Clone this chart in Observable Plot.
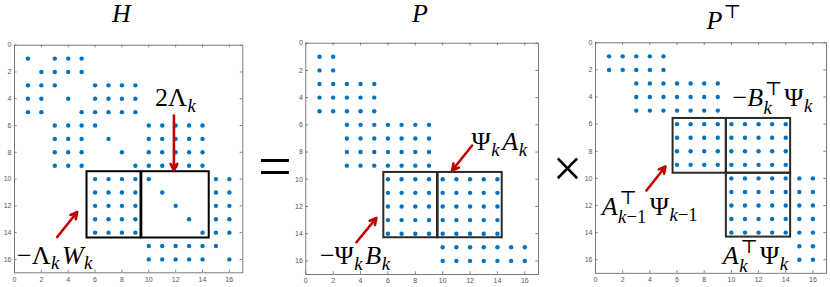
<!DOCTYPE html>
<html><head><meta charset="utf-8">
<script src="https://cdn.jsdelivr.net/npm/d3@7"></script>
<script src="https://cdn.jsdelivr.net/npm/@observablehq/plot@0.6"></script>
<style>
html,body{margin:0;padding:0;background:#fff;}
#wrap{position:relative;width:830px;height:287px;overflow:hidden;background:#fff;}
#wrap > svg{position:absolute;top:0;}
</style></head><body><div id="wrap"></div>
<script>
// ---------- data ----------
const tickValues = [0, 2, 4, 6, 8, 10, 12, 14, 16];

// nonzero columns of each row (rows 1..16)
const H_pattern = [
  [1,3,4,5], [2,3,4,5], [1,2,3,6,7,8,9], [1,2,4,6,7,8,9], [1,2,5,6,7,8,9],
  [3,4,5,6,10,11,12,13,14], [3,4,5,7,10,11,12,13,14], [3,4,5,8,10,11,12,13,14], [3,4,5,9,10,11,12,13,14],
  [6,7,8,9,10,15,16], [6,7,8,9,11,15,16], [6,7,8,9,12,15,16], [6,7,8,9,13,15,16], [6,7,8,9,14,15,16],
  [10,11,12,13,14,15], [10,11,12,13,14,16]
];
const P_pattern = [
  [1,2], [1,2], [1,2,3,4,5], [1,2,3,4,5], [1,2,3,4,5],
  [3,4,5,6,7,8,9], [3,4,5,6,7,8,9], [3,4,5,6,7,8,9], [3,4,5,6,7,8,9],
  [6,7,8,9,10,11,12,13,14], [6,7,8,9,10,11,12,13,14], [6,7,8,9,10,11,12,13,14], [6,7,8,9,10,11,12,13,14], [6,7,8,9,10,11,12,13,14],
  [10,11,12,13,14,15,16], [10,11,12,13,14,15,16]
];
const PT_pattern = [
  [1,2,3,4,5], [1,2,3,4,5], [3,4,5,6,7,8,9], [3,4,5,6,7,8,9], [3,4,5,6,7,8,9],
  [6,7,8,9,10,11,12,13,14], [6,7,8,9,10,11,12,13,14], [6,7,8,9,10,11,12,13,14], [6,7,8,9,10,11,12,13,14],
  [10,11,12,13,14,15,16], [10,11,12,13,14,15,16], [10,11,12,13,14,15,16], [10,11,12,13,14,15,16], [10,11,12,13,14,15,16],
  [15,16], [15,16]
];

// highlighted blocks (matrix coordinates)
const H_boxes = [{x1:5.4, x2:9.42, y1:9.45, y2:14.4}, {x1:9.48, x2:14.5, y1:9.45, y2:14.4}];
const P_boxes = [{x1:5.7, x2:9.62, y1:9.5, y2:14.3}, {x1:9.67, x2:14.35, y1:9.5, y2:14.3}];
const PT_boxes = [{x1:5.71, x2:9.63, y1:5.58, y2:9.62}, {x1:9.63, x2:14.36, y1:5.58, y2:9.62}, {x1:9.63, x2:14.36, y1:9.62, y2:14.33}];

// annotation arrows (matrix coordinates)
const H_arrows = [{x1:11.87, y1:5.25, x2:11.87, y2:9.35}, {x1:3.18, y1:14.33, x2:4.67, y2:12.46}];
const P_arrows = [{x1:12.15, y1:7.52, x2:10.69, y2:9.36}, {x1:3.7, y1:14.63, x2:5.16, y2:12.84}];
const PT_arrows = [{x1:3.75, y1:10.89, x2:5.15, y2:9.12}];

// annotation labels: left x, baseline y (matrix coordinates), tokens
const H_labels = [
  {x:10.5, y:4.6, tokens:[["2"],["Λ"],["k","sub"]]},
  {x:0.22, y:16.35, tokens:[["−"],["Λ"],["k","sub"],["W"],["k","sub"]]}
];
const P_labels = [
  {x:12.15, y:7.9, tokens:[["Ψ"],["k","sub"],["A"],["k","sub"]]},
  {x:1.07, y:16.3, tokens:[["−"],["Ψ"],["k","sub"],["B"],["k","sub"]]}
];
const PT_labels = [
  {x:10.12, y:4.7, tokens:[["−"],["B"],["k","subsup","⊤"],["Ψ"],["k","sub"]]},
  {x:0.49, y:12.73, tokens:[["A"],["k−1","subsup","⊤"],["Ψ"],["k−1","sub"]]},
  {x:9.41, y:16.35, tokens:[["A"],["k","subsup","⊤"],["Ψ"],["k","sub"]]}
];

// panel titles: left x (matrix coords), baseline in px
const titles = [
  {tokens:[["H"]], x:7.3, baseline:22},
  {tokens:[["P"]], x:7.8, baseline:22},
  {tokens:[["P"],["⊤","sup"]], x:8.2, baseline:29}
];

// ---------- drawing ----------
const SERIF = "'Liberation Serif','DejaVu Serif',serif";
const ctx = document.createElement("canvas").getContext("2d");
const isLatin = ch => /[A-Za-z]/.test(ch);
function measure(str, size) {
  let w = 0;
  for (const ch of str) {
    ctx.font = `${isLatin(ch) ? "italic " : ""}${size}px 'Liberation Serif', 'DejaVu Sans'`;
    w += ctx.measureText(ch).width;
  }
  return w;
}
function drawMath(sel, x, y, tokens, size) {
  const text = sel.append("text").attr("x", x).attr("y", y).attr("text-anchor", "start")
    .attr("font-family", SERIF).attr("font-size", size).attr("fill", "#000");
  let off = 0, pending = 0;
  const add = (str, fs, target, dx) => {
    let first = true;
    for (const ch of str) {
      const ts = text.append("tspan").attr("font-size", fs)
        .attr("font-style", isLatin(ch) ? "italic" : "normal").text(ch);
      if (first) {
        ts.attr("dy", target - off).attr("dx", dx + pending);
        off = target; pending = 0; first = false;
      }
    }
  };
  for (const [t, kind, t2] of tokens) {
    const s = size * 0.72;
    if (!kind) add(t, size, 0, 0);
    else if (kind === "sub") { add(t, s, size * 0.22, size * 0.02); pending = size * 0.1; }
    else if (kind === "sup") add(t, s, -size * 0.42, size * 0.05);
    else {
      const wSub = measure(t, s), wSup = measure(t2, s);
      add(t, s, size * 0.3, size * 0.02);
      add(t2, s, -size * 0.42, -wSub + size * 0.04);
      pending = Math.max(0, wSub - wSup - size * 0.04) + size * 0.08;
    }
  }
}

const panels = [
  {pattern:H_pattern, boxes:H_boxes, boxStroke:"#000", arrows:H_arrows, labels:H_labels, title:titles[0],
   left:0, width:277, mt:44.7, mr:34.7, mb:14.7, ml:14},
  {pattern:P_pattern, boxes:P_boxes, boxStroke:"#2a2a2a", arrows:P_arrows, labels:P_labels, title:titles[1],
   left:277, width:283, mt:42.7, mr:22, mb:13, ml:28.3},
  {pattern:PT_pattern, boxes:PT_boxes, boxStroke:"#2a2a2a", arrows:PT_arrows, labels:PT_labels, title:titles[2],
   left:560, width:270, mt:42.3, mr:4, mb:14.2, ml:35}
];

const wrap = document.getElementById("wrap");
const axisColor = "#555";
for (const p of panels) {
  const pts = p.pattern.flatMap((cols, i) => cols.map(c => ({row: i + 1, col: c})));
  const plot = Plot.plot({
    width: p.width, height: 287,
    marginTop: p.mt, marginRight: p.mr, marginBottom: p.mb, marginLeft: p.ml,
    x: {domain: [0, 17]},
    y: {domain: [0, 17], reverse: true},
    style: {background: "transparent", fontFamily: "'Liberation Sans', Arial, sans-serif", overflow: "visible"},
    marks: [
      Plot.axisX(tickValues, {anchor: "bottom", tickSize: 0, tickPadding: 4, fontSize: 7, fill: axisColor, label: null}),
      Plot.axisY(tickValues, {anchor: "left", tickSize: 0, tickPadding: 3, fontSize: 7, fill: axisColor, label: null}),
      Plot.ruleX(tickValues, {x: d => d, y1: 0, y2: 0.2, stroke: axisColor, strokeWidth: 0.7}),
      Plot.ruleX(tickValues, {x: d => d, y1: 17, y2: 16.8, stroke: axisColor, strokeWidth: 0.7}),
      Plot.ruleY(tickValues, {y: d => d, x1: 0, x2: 0.2, stroke: axisColor, strokeWidth: 0.7}),
      Plot.ruleY(tickValues, {y: d => d, x1: 17, x2: 16.8, stroke: axisColor, strokeWidth: 0.7}),
      Plot.frame({stroke: "#6e6e6e", strokeWidth: 0.9}),
      Plot.dot(pts, {x: "col", y: "row", r: 2.2, fill: "#0072BD", stroke: null}),
      Plot.rect(p.boxes, {x1: "x1", x2: "x2", y1: "y1", y2: "y2", fill: "none", stroke: p.boxStroke, strokeWidth: 2}),
      Plot.arrow(p.arrows, {x1: "x1", y1: "y1", x2: "x2", y2: "y2", stroke: "#C00000", strokeWidth: 2.6, headLength: 4.2, headAngle: 55})
    ]
  });
  plot.style.left = p.left + "px";
  wrap.appendChild(plot);
  const xs = plot.scale("x"), ys = plot.scale("y");
  const svg = d3.select(plot);
  for (const l of p.labels) drawMath(svg, xs.apply(l.x), ys.apply(l.y), l.tokens, 26);
  drawMath(svg, xs.apply(p.title.x), p.title.baseline, p.title.tokens, 26);
}

// operators between panels
const ops = d3.select(wrap).append("svg")
  .attr("width", 830).attr("height", 287)
  .style("position", "absolute").style("left", "0px").style("top", "0px")
  .style("pointer-events", "none");
ops.append("text").attr("x", 275).attr("y", 186).attr("text-anchor", "middle")
  .attr("font-family", SERIF).attr("font-size", 60).text("=");
ops.append("text").attr("x", 567.5).attr("y", 186).attr("text-anchor", "middle")
  .attr("font-family", SERIF).attr("font-size", 52).text("×");
</script></body></html>
